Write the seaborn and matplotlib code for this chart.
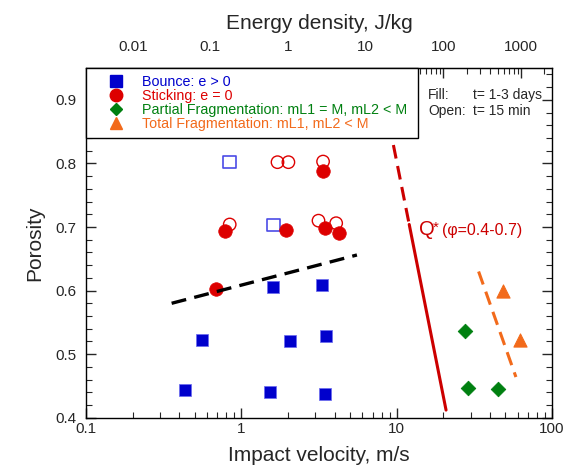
import numpy as np
import pandas as pd
import seaborn as sns
from matplotlib import pyplot as plt
from matplotlib.lines import Line2D
from matplotlib.ticker import LogLocator, MultipleLocator, NullFormatter, FixedLocator

# ---- data ----
bounce_v = [0.434, 1.52, 3.45, 0.562, 2.07, 3.52, 1.59, 3.30]
bounce_phi = [0.443, 0.440, 0.438, 0.523, 0.521, 0.528, 0.606, 0.609]

bounce_open_v = [0.842, 1.61]
bounce_open_phi = [0.802, 0.703]

stick_v = [0.69, 3.36, 0.785, 1.93, 3.44, 4.25]
stick_phi = [0.602, 0.788, 0.693, 0.696, 0.699, 0.691]

stick_open_v = [1.71, 2.01, 3.36, 0.842, 3.14, 4.08]
stick_open_phi = [0.802, 0.802, 0.803, 0.704, 0.710, 0.706]

partial_v = [27.7, 28.8, 45.1]
partial_phi = [0.536, 0.446, 0.445]

total_v = [48.1, 62.2]
total_phi = [0.600, 0.522]

# Q* threshold (dashed above phi=0.7, solid below)
qstar_dash_v = [9.53, 12.05]
qstar_dash_phi = [0.829, 0.704]
qstar_solid_v = [12.05, 20.8]
qstar_solid_phi = [0.704, 0.412]

# total fragmentation threshold
frag_v = [33.7, 58.6]
frag_phi = [0.630, 0.464]

# bounce / stick boundary
bs_v = [0.356, 5.55]
bs_phi = [0.580, 0.656]

legend_labels = ["Bounce: e > 0", "Sticking: e = 0",
                 "Partial Fragmentation: mL1 = M, mL2 < M",
                 "Total Fragmentation: mL1, mL2 < M"]

BLUE = "#0000cc"
RED = "#dd0000"
GREEN = "#008010"
ORANGE = "#f26a1b"


def main():
    sns.set_style("ticks")
    plt.rcParams["font.family"] = ["Liberation Sans", "DejaVu Sans"]

    fig = plt.figure(figsize=(5.72, 4.73), dpi=100)
    ax = fig.add_axes([0.1503, 0.1169, 0.8147, 0.7391])

    # open symbols first (behind)
    sns.scatterplot(x=stick_open_v, y=stick_open_phi, ax=ax, marker="o", s=80,
                    facecolor="none", edgecolor=RED, linewidth=1.0, zorder=2)
    sns.scatterplot(x=bounce_open_v, y=bounce_open_phi, ax=ax, marker="s", s=80,
                    facecolor="none", edgecolor="#4b4be6", linewidth=1.2, zorder=2)

    sns.scatterplot(x=bounce_v, y=bounce_phi, ax=ax, marker="s", s=85,
                    color=BLUE, edgecolor="#6a6af0", linewidth=0.5, zorder=3)
    sns.scatterplot(x=stick_v, y=stick_phi, ax=ax, marker="o", s=95,
                    color=RED, edgecolor=RED, linewidth=0.5, zorder=3)
    sns.scatterplot(x=partial_v, y=partial_phi, ax=ax, marker="D", s=55,
                    color=GREEN, edgecolor=GREEN, zorder=3)
    sns.scatterplot(x=total_v, y=total_phi, ax=ax, marker="^", s=90,
                    color=ORANGE, edgecolor=ORANGE, zorder=3)

    ax.plot(qstar_dash_v, qstar_dash_phi, color="#cc0000", lw=2.2, dashes=(4.5, 2.5), zorder=4)
    ax.plot(qstar_solid_v, qstar_solid_phi, color="#cc0000", lw=2.2, zorder=4)
    ax.plot(frag_v, frag_phi, color=ORANGE, lw=2.2, dashes=(4.5, 2.5), zorder=4)
    ax.plot(bs_v, bs_phi, color="black", lw=2.4, dashes=(4.5, 2.5), zorder=4)

    ax.set_xscale("log")
    ax.set_xlim(0.1, 100)
    ax.set_ylim(0.4, 0.95)
    ax.set_xticks([0.1, 1, 10, 100])
    ax.set_xticklabels(["0.1", "1", "10", "100"])
    ax.yaxis.set_major_locator(FixedLocator([0.4, 0.5, 0.6, 0.7, 0.8, 0.9]))
    ax.set_yticklabels(["0.4", "0.5", "0.6", "0.7", "0.8", "0.9"])
    ax.yaxis.set_minor_locator(MultipleLocator(0.02))
    ax.xaxis.set_minor_locator(LogLocator(base=10, subs=np.arange(2, 10)))
    ax.xaxis.set_minor_formatter(NullFormatter())

    ax.tick_params(which="both", direction="in", top=False, right=True,
                   labelsize=11, pad=3)
    ax.tick_params(which="major", length=7, width=1)
    ax.tick_params(which="minor", length=4, width=0.8)
    ax.tick_params(axis="y", pad=7)
    for s in ax.spines.values():
        s.set_linewidth(1.0)
        s.set_color("black")

    ax.set_xlabel("Impact velocity, m/s", fontsize=15, labelpad=7)
    ax.set_ylabel("Porosity", fontsize=15, labelpad=8)

    # energy density on top: E = v^2 / 4
    sec = ax.secondary_xaxis("top", functions=(lambda v: v ** 2 / 4.0,
                                               lambda e: np.sqrt(4.0 * np.clip(e, 1e-12, None))))
    sec.set_xscale("log")
    sec.set_xticks([0.01, 0.1, 1, 10, 100, 1000])
    sec.set_xticklabels(["0.01", "0.1", "1", "10", "100", "1000"])
    sec.xaxis.set_minor_locator(LogLocator(base=10, subs=np.arange(2, 10)))
    sec.xaxis.set_minor_formatter(NullFormatter())
    sec.tick_params(which="both", direction="in", labelsize=11, pad=10)
    sec.tick_params(which="major", length=7, width=1)
    sec.tick_params(which="minor", length=4, width=0.8)
    sec.set_xlabel("Energy density, J/kg", fontsize=15, labelpad=8)

    # legend
    handles = [
        Line2D([], [], ls="none", marker="s", ms=8.5, color=BLUE),
        Line2D([], [], ls="none", marker="o", ms=9, color=RED),
        Line2D([], [], ls="none", marker="D", ms=6.5, color=GREEN),
        Line2D([], [], ls="none", marker="^", ms=8.5, color=ORANGE),
    ]
    leg = ax.legend(handles, legend_labels, loc="upper left",
                    bbox_to_anchor=(0, 0.79, 0.712, 0.21), mode="expand",
                    borderaxespad=0, fontsize=10.3, labelspacing=0.0,
                    borderpad=0.5, handlelength=3.2, handletextpad=0.2,
                    fancybox=False, framealpha=1, edgecolor="black")
    leg.get_frame().set_linewidth(1.0)
    for t, c in zip(leg.get_texts(), [BLUE, RED, GREEN, ORANGE]):
        t.set_color(c)

    ax.text(0.734, 0.911, "Fill:", transform=ax.transAxes, fontsize=10, va="baseline")
    ax.text(0.734, 0.866, "Open:", transform=ax.transAxes, fontsize=10, va="baseline")
    ax.text(0.830, 0.911, "t= 1-3 days", transform=ax.transAxes, fontsize=10, va="baseline")
    ax.text(0.830, 0.866, "t= 15 min", transform=ax.transAxes, fontsize=10, va="baseline")

    ax.text(13.9, 0.688, "Q", color="#cc0000", fontsize=14.5)
    ax.text(17.2, 0.693, "*", color="#cc0000", fontsize=11)
    ax.text(19.6, 0.688, "(\u03c6=0.4-0.7)", color="#cc0000", fontsize=11.5)

    fig.savefig("out.png", dpi=100)


if __name__ == '__main__':
    main()
